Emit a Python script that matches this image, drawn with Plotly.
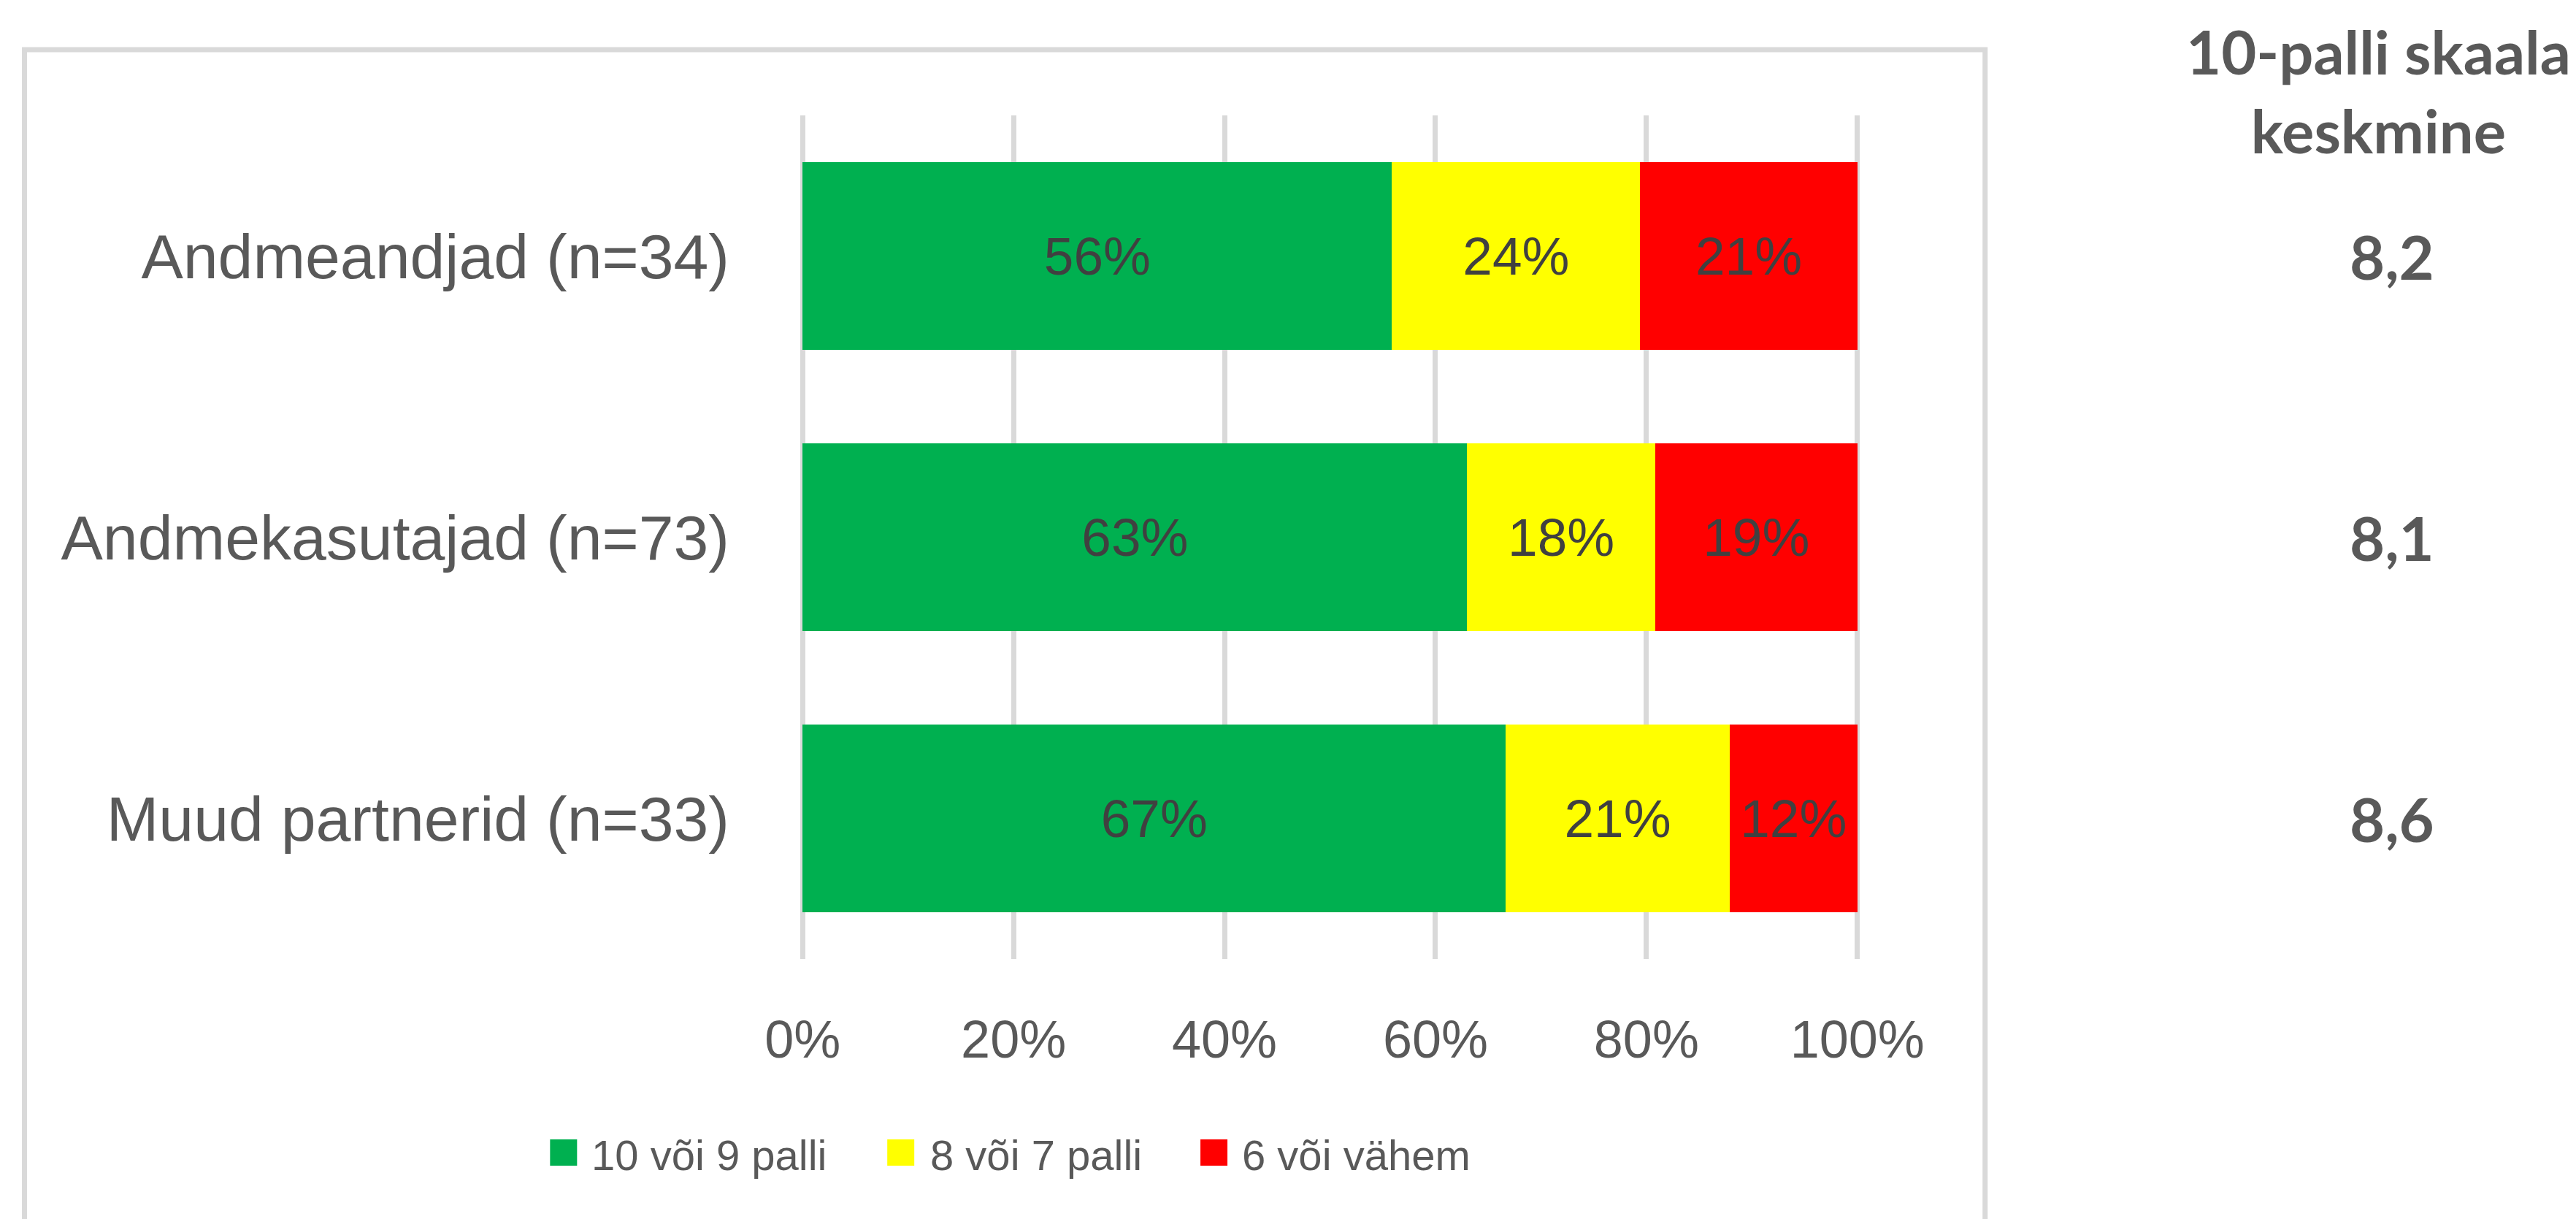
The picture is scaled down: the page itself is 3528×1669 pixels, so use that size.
import plotly.graph_objects as go

W, H = 3528, 1669

# ── data ────────────────────────────────────────────────────────────────
groups = ["Andmeandjad (n=34)", "Andmekasutajad (n=73)", "Muud partnerid (n=33)"]
share_high = [55.88, 63.01, 66.67]   # 10 või 9 palli
share_mid = [23.53, 17.81, 21.21]    # 8 või 7 palli
share_low = [20.59, 19.18, 12.12]    # 6 või vähem
mean_scores = ["8,2", "8,1", "8,6"]
series_names = ["10 või 9 palli", "8 või 7 palli", "6 või vähem"]
x_ticks = [0, 20, 40, 60, 80, 100]
x_ticktext = ["0%", "20%", "40%", "60%", "80%", "100%"]
side_title = "10-palli skaala<br>keskmine"

# ── style ───────────────────────────────────────────────────────────────
COLORS = ["#00B050", "#FFFF00", "#FF0000"]
GREY_TEXT = "#595959"
LABEL_TEXT = "#404040"
LINE = "#D9D9D9"
FONT = "Liberation Sans, Arial, sans-serif"
BOLD_FONT = "Lato, Calibri, sans-serif"

# pixel position of 0% and 100%, top/bottom of plot area
X0, X100, T, B = 1091, 2536, 150, 1305
PAD = 0.5  # small range padding so the 0% / 100% gridlines get drawn
unit = (X100 - X0) / 100
L = X0 - PAD * unit
R = X100 + PAD * unit


def px(x):
    return (x - L) / (R - L)


def py(y):
    return (B - y) / (B - T)


fig = go.Figure()
for name, vals, color in zip(series_names, [share_high, share_mid, share_low], COLORS):
    fig.add_trace(
        go.Bar(
            y=groups,
            x=vals,
            name=name,
            orientation="h",
            marker=dict(color=color, line=dict(width=0)),
            texttemplate="%{x:.0f}%",
            textposition="inside",
            insidetextanchor="middle",
            textangle=0,
            constraintext="none",
            textfont=dict(family=FONT, size=73, color=LABEL_TEXT),
            showlegend=False,
        )
    )

# chart frame (bottom edge runs off the canvas, as in the original)
shapes = [
    dict(
        type="rect", xref="paper", yref="paper",
        x0=px(25), x1=px(2711), y0=py(1720), y1=py(60),
        line=dict(color=LINE, width=7), fillcolor="rgba(0,0,0,0)", layer="below",
    )
]

# legend drawn by hand so the swatches are the right size
legend_sq_x = [745, 1207, 1636]
legend_txt_x = [800, 1264, 1691]
legend_y = 1570
annotations = []
for name, color, sx, tx in zip(series_names, COLORS, legend_sq_x, legend_txt_x):
    shapes.append(
        dict(
            type="rect", xref="paper", yref="paper",
            x0=px(sx), x1=px(sx + 37), y0=py(legend_y + 18), y1=py(legend_y - 18),
            line=dict(width=0), fillcolor=color,
        )
    )
    annotations.append(
        dict(
            text=name, xref="paper", yref="paper", x=px(tx), y=py(legend_y + 3),
            xanchor="left", yanchor="middle", showarrow=False,
            font=dict(family=FONT, size=58, color=GREY_TEXT),
        )
    )

# side column with mean scores
annotations.append(
    dict(
        text="<b>" + side_title + "</b>", xref="paper", yref="paper",
        x=px(3250), y=py(116), xanchor="center", yanchor="middle", showarrow=False,
        font=dict(family=BOLD_FONT, size=83, color=GREY_TEXT),
    )
)
for g, m in zip(groups, mean_scores):
    annotations.append(
        dict(
            text="<b>" + m + "</b>", xref="paper", yref="y", x=px(3268), y=g,
            xanchor="center", yanchor="middle", showarrow=False,
            font=dict(family=BOLD_FONT, size=83, color=GREY_TEXT),
        )
    )

fig.update_layout(
    width=W,
    height=H,
    autosize=False,
    barmode="stack",
    bargap=0.33,
    paper_bgcolor="white",
    plot_bgcolor="white",
    margin=dict(l=L, r=W - R, t=T, b=H - B, pad=0),
    showlegend=False,
    shapes=shapes,
    annotations=annotations,
    xaxis=dict(
        range=[-PAD, 100 + PAD],
        tickvals=x_ticks,
        ticktext=x_ticktext,
        showgrid=True,
        gridcolor=LINE,
        gridwidth=7,
        zeroline=False,
        showline=False,
        ticks="",
        ticklabelstandoff=62,
        tickfont=dict(family=FONT, size=72, color=GREY_TEXT),
        fixedrange=True,
    ),
    yaxis=dict(
        categoryorder="array",
        categoryarray=groups,
        autorange="reversed",
        showgrid=False,
        zeroline=False,
        showline=False,
        ticks="",
        ticklabelstandoff=92,
        tickfont=dict(family=FONT, size=86, color=GREY_TEXT),
        fixedrange=True,
    ),
)

fig.write_html("out.html")
